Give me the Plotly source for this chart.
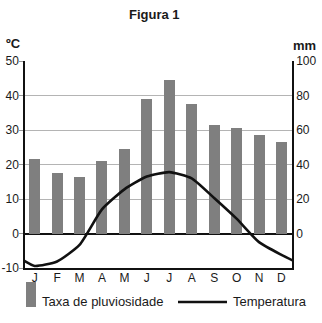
import plotly.graph_objects as go

months = ["J", "F", "M", "A", "M", "J", "J", "A", "S", "O", "N", "D"]
rain_mm = [43, 35, 32.5, 42, 49, 78, 89, 75, 63, 61, 57, 53]
temp_c = [-9.4, -8.1, -3.3, 7.0, 12.8, 16.5, 17.8, 16.0, 10.3, 4.3, -2.5, -6.2]
temp_ticks = [-10, 0, 10, 20, 30, 40, 50]
rain_ticks = [0, 20, 40, 60, 80, 100]

W, H = 322, 323
L, R, T, B = 25, 30, 61, 55
PW, PH = W - L - R, H - T - B

def px(x):
    return (x - L) / PW

def py(y):
    return (H - B - y) / PH

idx = list(range(len(months)))
# the temperature curve is periodic: the edges continue from December into January
edge = (temp_c[0] + temp_c[-1]) / 2
line_x = [-0.5] + idx + [len(months) - 0.5]
line_y = [edge] + temp_c + [edge]

FONT = "Liberation Sans, Arial, sans-serif"
TXT = "#1a1a1a"

fig = go.Figure()
fig.add_trace(go.Bar(x=idx, y=rain_mm, width=0.49, marker=dict(color="#7f7f7f", line=dict(width=0)),
                     yaxis="y", showlegend=False))
fig.add_trace(go.Scatter(x=line_x, y=line_y, mode="lines", line=dict(color="#111111", width=2.6, shape="spline", smoothing=0.55),
                         yaxis="y2", showlegend=False))

fig.update_layout(
    width=W, height=H, margin=dict(l=L, r=R, t=T, b=B, autoexpand=False),
    paper_bgcolor="white", plot_bgcolor="white",
    font=dict(family=FONT, size=12, color=TXT),
    xaxis=dict(range=[-0.43, 11.47], tickmode="array", tickvals=idx, ticktext=months, automargin=False,
               showgrid=False, zeroline=False, showline=True, linecolor="#111", linewidth=1.5,
               ticks="", ticklabelstandoff=-2, tickfont=dict(size=12, color=TXT)),
    yaxis=dict(range=[-20, 100], side="right", tickmode="array", tickvals=rain_ticks, automargin=False,
               showgrid=True, gridcolor="#b4b4b4", gridwidth=1,
               zeroline=True, zerolinecolor="#111", zerolinewidth=1.5,
               showline=True, linecolor="#111", linewidth=1.5, ticks="",
               tickfont=dict(size=12, color=TXT)),
    yaxis2=dict(range=[-10, 50], side="left", overlaying="y", tickmode="array", tickvals=temp_ticks,
                ticktext=[str(v) for v in temp_ticks], automargin=False,
                showgrid=False, zeroline=False, showline=True, linecolor="#111", linewidth=1.5,
                ticks="outside", ticklen=4, tickcolor="#999", ticklabelstandoff=-2,
                tickfont=dict(size=12, color=TXT)),
    bargap=0,
)

ann = [
    dict(text="<b>Figura 1</b>", x=px(154), y=py(15), xanchor="center", yanchor="middle", font=dict(size=13)),
    dict(text="<b>ºC</b>", x=px(13), y=py(43), xanchor="center", yanchor="middle", font=dict(size=13)),
    dict(text="<b>mm</b>", x=px(304), y=py(45), xanchor="center", yanchor="middle", font=dict(size=13)),
    dict(text="Taxa de pluviosidade", x=px(40), y=py(301), xanchor="left", yanchor="middle", font=dict(size=13)),
    dict(text="Temperatura", x=px(231), y=py(301), xanchor="left", yanchor="middle", font=dict(size=13)),
    dict(text="<b>Figura 2</b>", x=px(154), y=py(318), xanchor="center", yanchor="top", font=dict(size=13)),
]
for a in ann:
    a.update(xref="paper", yref="paper", showarrow=False)
fig.update_layout(annotations=ann)

fig.update_layout(shapes=[
    dict(type="rect", xref="paper", yref="paper", x0=px(26), x1=px(36), y0=py(282), y1=py(307),
         fillcolor="#7f7f7f", line=dict(width=0)),
    dict(type="line", xref="paper", yref="paper", x0=px(178), x1=px(227), y0=py(302), y1=py(302),
         line=dict(color="#111", width=2.6)),
])

fig.write_html("out.html")
